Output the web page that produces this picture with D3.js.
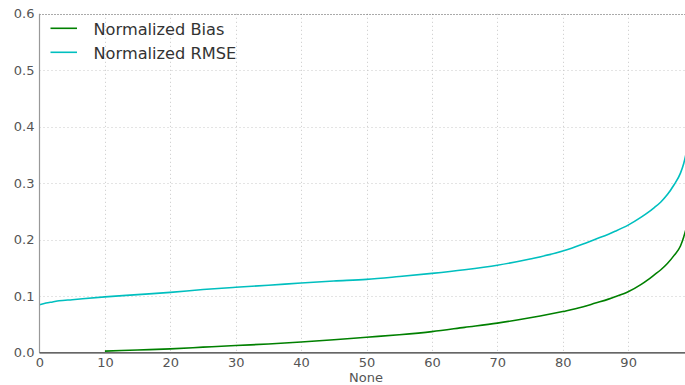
<!DOCTYPE html>
<html>
<head>
<meta charset="utf-8">
<script src="https://cdn.jsdelivr.net/npm/d3@7/dist/d3.min.js"></script>
<style>
  html, body { margin: 0; padding: 0; background: #fff; }
  svg { display: block; font-family: "DejaVu Sans", sans-serif; }
</style>
</head>
<body>
<svg id="chart" width="685" height="385"></svg>
<script>
// Percentile positions along the x axis
const percentiles = [0, 1, 2, 3, 5, 10, 15, 20, 25, 30, 35, 40, 45, 50, 55, 60, 65, 70, 75, 80, 83, 85, 87, 88, 90, 92, 93, 94, 95, 96, 97, 98, 98.5, 99];
// Normalized RMSE at each percentile
const rmseValues = [0.085, 0.088, 0.090, 0.092, 0.094, 0.099, 0.103, 0.107, 0.112, 0.116, 0.1195, 0.1235, 0.127, 0.130, 0.135, 0.1405, 0.147, 0.155, 0.166, 0.180, 0.192, 0.201, 0.210, 0.215, 0.226, 0.240, 0.248, 0.257, 0.267, 0.280, 0.297, 0.318, 0.335, 0.360];
// Normalized bias at each percentile (no values below the 10th)
const biasValues = [null, null, null, null, null, 0.003, 0.005, 0.007, 0.010, 0.013, 0.0155, 0.019, 0.023, 0.0275, 0.032, 0.0375, 0.045, 0.0525, 0.062, 0.073, 0.081, 0.088, 0.095, 0.099, 0.108, 0.121, 0.129, 0.138, 0.147, 0.158, 0.172, 0.189, 0.205, 0.225];

const seriesNames = ["Normalized Bias", "Normalized RMSE"];
const seriesColors = ["#008000", "#00bfbf"];
const xTicks = [0, 10, 20, 30, 40, 50, 60, 70, 80, 90];
const yTicks = [0.0, 0.1, 0.2, 0.3, 0.4, 0.5, 0.6];
const xLabel = "None";

const svg = d3.select("#chart");
const plotLeft = 39.5, plotRight = 687, plotTop = 13.8, plotBottom = 352.8, viewRight = 685;

const x = d3.scaleLinear().domain([0, 99]).range([plotLeft, plotRight]);
const y = d3.scaleLinear().domain([0, 0.6]).range([plotBottom, plotTop]);

// grid
const grid = svg.append("g");
grid.selectAll("line.vx").data(xTicks.slice(1)).join("line")
  .attr("x1", d => Math.round(x(d)) + 0.5).attr("x2", d => Math.round(x(d)) + 0.5)
  .attr("y1", plotTop).attr("y2", plotBottom)
  .attr("stroke", "#c8c8c8").attr("stroke-width", 1).attr("stroke-dasharray", "1,3");
grid.selectAll("line.hy").data(yTicks.slice(1, -1)).join("line")
  .attr("x1", plotLeft).attr("x2", viewRight)
  .attr("y1", d => Math.round(y(d)) + 0.5).attr("y2", d => Math.round(y(d)) + 0.5)
  .attr("stroke", "#c8c8c8").attr("stroke-width", 1).attr("stroke-dasharray", "1,3");
// top edge at 0.6
svg.append("line")
  .attr("x1", plotLeft).attr("x2", viewRight)
  .attr("y1", Math.round(y(0.6)) + 0.5).attr("y2", Math.round(y(0.6)) + 0.5)
  .attr("stroke", "#555").attr("stroke-width", 1).attr("stroke-dasharray", "1,2");

// series lines
svg.append("clipPath").attr("id", "plotClip")
  .append("rect").attr("x", plotLeft).attr("y", plotTop)
  .attr("width", viewRight - plotLeft).attr("height", plotBottom - plotTop);

const series = [biasValues, rmseValues];
series.forEach((vals, i) => {
  const line = d3.line()
    .defined((d, j) => vals[j] != null)
    .x((d, j) => x(percentiles[j]))
    .y((d, j) => y(vals[j]))
    .curve(d3.curveMonotoneX);
  svg.append("path")
    .datum(vals)
    .attr("d", line)
    .attr("fill", "none")
    .attr("stroke", seriesColors[i])
    .attr("stroke-width", 1.6)
    .attr("clip-path", "url(#plotClip)");
});

// axes
const xAxis = d3.axisBottom(x).tickValues(xTicks).tickSize(0).tickPadding(5).tickFormat(d3.format("d"));
const gx = svg.append("g").attr("transform", `translate(0,${plotBottom})`).call(xAxis);
gx.select(".domain").remove();
gx.selectAll("text").attr("fill", "#555").attr("font-size", 13).attr("font-family", "DejaVu Sans");

const yAxis = d3.axisLeft(y).tickValues(yTicks).tickSize(0).tickPadding(5).tickFormat(d3.format(".1f"));
const gy = svg.append("g").attr("transform", `translate(${plotLeft},0)`).call(yAxis);
gy.select(".domain").remove();
gy.selectAll("text").attr("fill", "#555").attr("font-size", 13).attr("font-family", "DejaVu Sans");

// spines
svg.append("line").attr("x1", plotLeft).attr("x2", plotLeft).attr("y1", plotTop).attr("y2", plotBottom)
  .attr("stroke", "#999").attr("stroke-width", 1.2);
svg.append("line").attr("x1", plotLeft).attr("x2", viewRight).attr("y1", plotBottom).attr("y2", plotBottom)
  .attr("stroke", "#333").attr("stroke-width", 1.3);

// x label
svg.append("text").attr("x", 366).attr("y", 382.3)
  .attr("text-anchor", "middle").attr("fill", "#555").attr("font-size", 13)
  .text(xLabel);

// legend
const legend = svg.append("g");
seriesNames.forEach((name, i) => {
  const ly = 28.3 + i * 24;
  legend.append("line").attr("x1", 50.5).attr("x2", 77).attr("y1", ly).attr("y2", ly)
    .attr("stroke", seriesColors[i]).attr("stroke-width", 1.6);
  legend.append("text").attr("x", 93.5).attr("y", ly + 6.4)
    .attr("fill", "#333").attr("font-size", 16.2).text(name);
});
</script>
</body>
</html>
